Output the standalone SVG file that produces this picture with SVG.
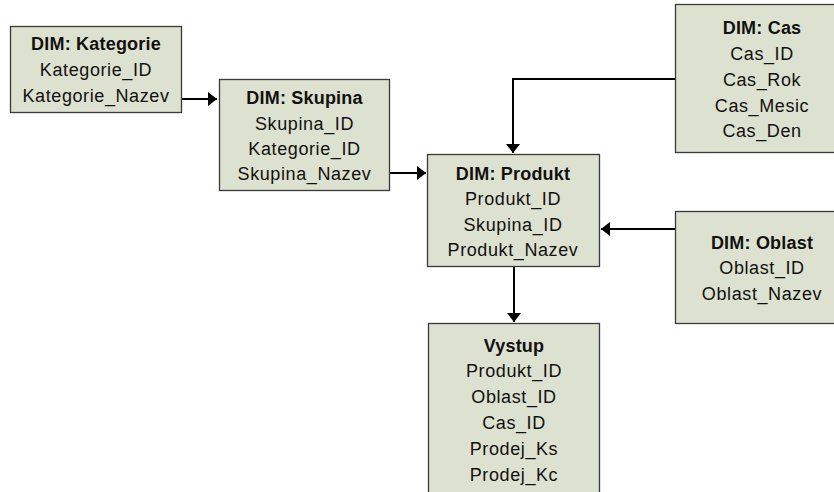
<svg xmlns="http://www.w3.org/2000/svg" width="834" height="492" viewBox="0 0 834 492">
<defs>
<style>
.box{fill:#dde1cf;stroke:#3a3a3a;stroke-width:1.3}
.t{font-family:"Liberation Sans",Arial,sans-serif;font-size:18px;fill:#111;text-anchor:middle;letter-spacing:0.6px}
.b{font-weight:bold;letter-spacing:0.2px}
.c{fill:none;stroke:#000;stroke-width:2}
</style>
<marker id="ah" markerWidth="10" markerHeight="14" refX="9" refY="7" orient="auto" markerUnits="userSpaceOnUse">
<path d="M0,0 L9,7 L0,14 Z" fill="#000"/>
</marker>
</defs>
<rect width="834" height="492" fill="#fff"/>
<g id="connectors">
<path class="c" d="M182,99 H217" marker-end="url(#ah)"/>
<path class="c" d="M390,173 H426" marker-end="url(#ah)"/>
<path class="c" d="M675,79 H513 V153" marker-end="url(#ah)"/>
<path class="c" d="M675,229 H601" marker-end="url(#ah)"/>
<path class="c" d="M514,267 V322" marker-end="url(#ah)"/>
</g>
<g id="kategorie">
<rect class="box" x="10.5" y="26.5" width="171" height="86"/>
<text class="t b" x="96" y="50">DIM: Kategorie</text>
<text class="t" x="96" y="76">Kategorie_ID</text>
<text class="t" x="96" y="102">Kategorie_Nazev</text>
</g>
<g id="skupina">
<rect class="box" x="219.5" y="79.5" width="170" height="111"/>
<text class="t b" x="304.5" y="104">DIM: Skupina</text>
<text class="t" x="304.5" y="130">Skupina_ID</text>
<text class="t" x="304.5" y="155">Kategorie_ID</text>
<text class="t" x="304.5" y="180">Skupina_Nazev</text>
</g>
<g id="produkt">
<rect class="box" x="427.5" y="154.5" width="172" height="112"/>
<text class="t b" x="513" y="180">DIM: Produkt</text>
<text class="t" x="513" y="205">Produkt_ID</text>
<text class="t" x="513" y="231">Skupina_ID</text>
<text class="t" x="513" y="256">Produkt_Nazev</text>
</g>
<g id="cas">
<rect class="box" x="675.5" y="4.5" width="175" height="148"/>
<text class="t b" x="762" y="34">DIM: Cas</text>
<text class="t" x="762" y="60">Cas_ID</text>
<text class="t" x="762" y="86">Cas_Rok</text>
<text class="t" x="762" y="112">Cas_Mesic</text>
<text class="t" x="762" y="137">Cas_Den</text>
</g>
<g id="oblast">
<rect class="box" x="675.5" y="211.5" width="175" height="112"/>
<text class="t b" x="762" y="249">DIM: Oblast</text>
<text class="t" x="762" y="274">Oblast_ID</text>
<text class="t" x="762" y="300">Oblast_Nazev</text>
</g>
<g id="vystup">
<rect class="box" x="428.5" y="323.5" width="171" height="180"/>
<text class="t b" x="514" y="352">Vystup</text>
<text class="t" x="514" y="377">Produkt_ID</text>
<text class="t" x="514" y="403">Oblast_ID</text>
<text class="t" x="514" y="429">Cas_ID</text>
<text class="t" x="514" y="455">Prodej_Ks</text>
<text class="t" x="514" y="481">Prodej_Kc</text>
</g>
</svg>
